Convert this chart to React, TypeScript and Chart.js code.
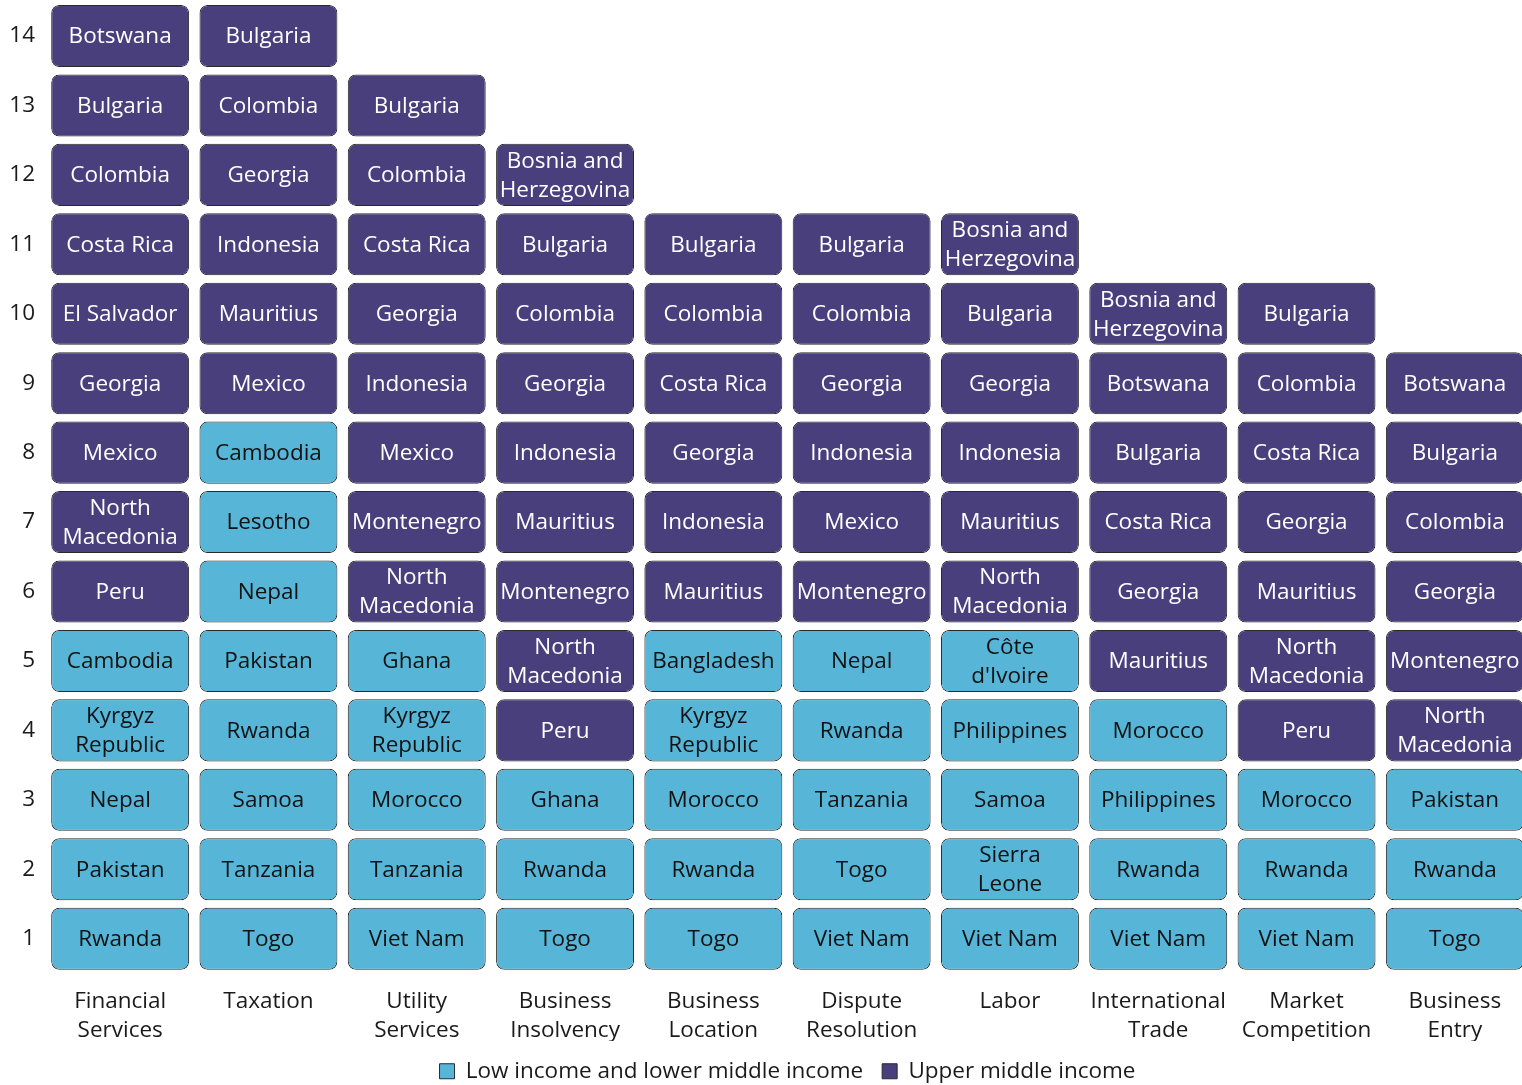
import React, { useEffect, useRef } from "react";
import { Chart, registerables } from "chart.js";

Chart.register(...registerables);

const categories: string[][] = [
  ["Financial", "Services"],
  ["Taxation"],
  ["Utility", "Services"],
  ["Business", "Insolvency"],
  ["Business", "Location"],
  ["Dispute", "Resolution"],
  ["Labor"],
  ["International", "Trade"],
  ["Market", "Competition"],
  ["Business", "Entry"],
];

const rankTicks = [1, 2, 3, 4, 5, 6, 7, 8, 9, 10, 11, 12, 13, 14];

// Countries listed from rank 1 (bottom) upward
const financialServices = ["Rwanda", "Pakistan", "Nepal", "Kyrgyz Republic", "Cambodia", "Peru", "North Macedonia", "Mexico", "Georgia", "El Salvador", "Costa Rica", "Colombia", "Bulgaria", "Botswana"];
const taxation = ["Togo", "Tanzania", "Samoa", "Rwanda", "Pakistan", "Nepal", "Lesotho", "Cambodia", "Mexico", "Mauritius", "Indonesia", "Georgia", "Colombia", "Bulgaria"];
const utilityServices = ["Viet Nam", "Tanzania", "Morocco", "Kyrgyz Republic", "Ghana", "North Macedonia", "Montenegro", "Mexico", "Indonesia", "Georgia", "Costa Rica", "Colombia", "Bulgaria"];
const businessInsolvency = ["Togo", "Rwanda", "Ghana", "Peru", "North Macedonia", "Montenegro", "Mauritius", "Indonesia", "Georgia", "Colombia", "Bulgaria", "Bosnia and Herzegovina"];
const businessLocation = ["Togo", "Rwanda", "Morocco", "Kyrgyz Republic", "Bangladesh", "Mauritius", "Indonesia", "Georgia", "Costa Rica", "Colombia", "Bulgaria"];
const disputeResolution = ["Viet Nam", "Togo", "Tanzania", "Rwanda", "Nepal", "Montenegro", "Mexico", "Indonesia", "Georgia", "Colombia", "Bulgaria"];
const labor = ["Viet Nam", "Sierra Leone", "Samoa", "Philippines", "Côte d'Ivoire", "North Macedonia", "Mauritius", "Indonesia", "Georgia", "Bulgaria", "Bosnia and Herzegovina"];
const internationalTrade = ["Viet Nam", "Rwanda", "Philippines", "Morocco", "Mauritius", "Georgia", "Costa Rica", "Bulgaria", "Botswana", "Bosnia and Herzegovina"];
const marketCompetition = ["Viet Nam", "Rwanda", "Morocco", "Peru", "North Macedonia", "Mauritius", "Georgia", "Costa Rica", "Colombia", "Bulgaria"];
const businessEntry = ["Togo", "Rwanda", "Pakistan", "North Macedonia", "Montenegro", "Georgia", "Colombia", "Bulgaria", "Botswana"];

const lowIncomeCountries = ["Rwanda", "Pakistan", "Nepal", "Kyrgyz Republic", "Cambodia", "Togo", "Tanzania", "Samoa", "Lesotho", "Viet Nam", "Morocco", "Ghana", "Bangladesh", "Sierra Leone", "Philippines", "Côte d'Ivoire"];

const wrappedNames: Record<string, string[]> = {
  "Kyrgyz Republic": ["Kyrgyz", "Republic"],
  "North Macedonia": ["North", "Macedonia"],
  "Bosnia and Herzegovina": ["Bosnia and", "Herzegovina"],
  "Côte d'Ivoire": ["Côte", "d'Ivoire"],
  "Sierra Leone": ["Sierra", "Leone"],
};

const seriesNames = ["Low income and lower middle income", "Upper middle income"];
const LOW_COLOR = "#57B6D8";
const UPPER_COLOR = "#483F7C";
const BORDER_COLOR = "#2a2a2a";
const FONT = "'Open Sans'";
const FONT_SIZE = 22.5;

const columns = [financialServices, taxation, utilityServices, businessInsolvency, businessLocation, disputeResolution, labor, internationalTrade, marketCompetition, businessEntry];

const isLow = (name: string | undefined) => !!name && lowIncomeCountries.includes(name);

export default function App() {
  const ref = useRef<HTMLCanvasElement | null>(null);

  useEffect(() => {
    if (!ref.current) return;
    const halfBox = 0.447;
    const datasets = rankTicks.map((rank) => ({
      label: "rank" + rank,
      data: columns.map((col) => (col[rank - 1] ? [rank - halfBox, rank + halfBox] : null)),
      backgroundColor: columns.map((col) => (isLow(col[rank - 1]) ? LOW_COLOR : UPPER_COLOR)),
      borderColor: BORDER_COLOR,
      borderWidth: 1,
      borderRadius: 8,
      borderSkipped: false,
      barPercentage: 0.93,
      categoryPercentage: 1,
    }));

    const labelPlugin = {
      id: "cellLabels",
      afterDatasetsDraw(chart: any) {
        const ctx = chart.ctx;
        ctx.save();
        ctx.font = `${FONT_SIZE}px ${FONT}`;
        ctx.textAlign = "center";
        ctx.textBaseline = "middle";
        chart.data.datasets.forEach((ds: any, di: number) => {
          const meta = chart.getDatasetMeta(di);
          meta.data.forEach((el: any, i: number) => {
            const name = columns[i][rankTicks[di] - 1];
            if (!name) return;
            const cx = el.x;
            const cy = (el.y + el.base) / 2;
            ctx.fillStyle = isLow(name) ? "#111111" : "#ffffff";
            const lines = wrappedNames[name] || [name];
            const lh = 29;
            lines.forEach((ln, k) => {
              ctx.fillText(ln, cx, cy + 1 + (k - (lines.length - 1) / 2) * lh);
            });
          });
        });
        ctx.restore();
      },
    };

    const chart = new Chart(ref.current, {
      type: "bar",
      data: { labels: categories, datasets: datasets as any },
      plugins: [labelPlugin],
      options: {
        animation: false,
        responsive: true,
        maintainAspectRatio: false,
        layout: { padding: { top: 1.3, right: 11, left: 0, bottom: -7.5 } },
        scales: {
          x: {
            stacked: true,
            clip: false,
            grid: { display: false, drawTicks: false },
            border: { display: false },
            afterFit: (scale: any) => {
              scale.height = 67.6;
              scale.paddingLeft = 0;
              scale.paddingRight = 0;
            },
            ticks: {
              font: { family: FONT, size: FONT_SIZE, lineHeight: 29 / FONT_SIZE },
              color: "#1a1a1a",
              padding: 13.8,
              maxRotation: 0,
              autoSkip: false,
            },
          },
          y: {
            stacked: false,
            clip: false,
            min: 0.5,
            max: 14.5,
            grid: { display: false, drawTicks: false },
            border: { display: false },
            afterBuildTicks: (scale: any) => {
              scale.ticks = rankTicks.map((v) => ({ value: v }));
            },
            afterFit: (scale: any) => {
              scale.width = 46;
              scale.paddingTop = 0;
              scale.paddingBottom = 0;
            },
            ticks: {
              font: { family: FONT, size: FONT_SIZE },
              color: "#1a1a1a",
              padding: 11,
              callback: (v: any) => String(v),
            },
          },
        } as any,
        plugins: {
          tooltip: { enabled: false },
          legend: {
            position: "bottom",
            fullSize: false,
            labels: {
              boxWidth: 15,
              boxHeight: 15,
              padding: 19,
              color: "#1a1a1a",
              font: { family: FONT, size: FONT_SIZE },
              generateLabels: () => [
                { text: seriesNames[0], fillStyle: LOW_COLOR, strokeStyle: BORDER_COLOR, lineWidth: 1, hidden: false, fontColor: "#1a1a1a" },
                { text: seriesNames[1], fillStyle: UPPER_COLOR, strokeStyle: BORDER_COLOR, lineWidth: 1, hidden: false, fontColor: "#1a1a1a" },
              ] as any,
            },
            onClick: () => {},
          },
        },
      },
    });
    return () => chart.destroy();
  }, []);

  return (
    <div style={{ position: "fixed", left: 0, top: 0, width: 1522, height: 1085, overflow: "hidden", background: "#fff" }}>
      <div style={{ position: "relative", width: 1540, height: 1085 }}>
        <canvas ref={ref} />
      </div>
    </div>
  );
}
